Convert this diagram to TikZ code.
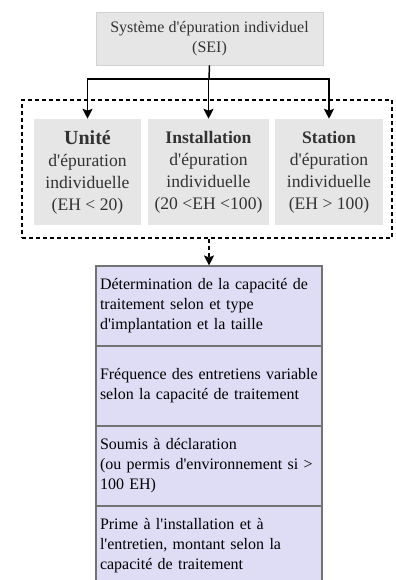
\documentclass[tikz,border=0pt]{standalone}
\usepackage{fontspec}
\setmainfont{Liberation Serif}[Ligatures=TeXOff]
\usetikzlibrary{arrows.meta}
\definecolor{grisbox}{RGB}{230,230,230}
\definecolor{lavande}{RGB}{223,221,245}
\definecolor{texte}{RGB}{51,51,51}
\tikzset{
  fleche/.style={line width=1.1pt,-{Stealth[length=7.5pt,width=7.5pt,inset=1.5pt]}},
  sysbox/.style={fill=grisbox,draw=gray!35,text=texte,align=center,font=\fontsize{12}{15}\selectfont},
  typebox/.style={fill=grisbox,text=texte,align=center,font=\fontsize{13.2}{16.5}\selectfont,minimum height=79.5pt},
  rowbox/.style={fill=lavande,draw=gray!90!black,line width=0.8pt,align=left,text width=163.5pt,
    minimum height=60pt,inner xsep=3pt,font=\fontsize{12}{15}\selectfont}
}
\begin{document}
\begin{tikzpicture}[x=0.75pt,y=-0.75pt]
\useasboundingbox (0,0) rectangle (395,580);
\clip (0,0) rectangle (395,580);
  % systeme
  \node[sysbox,minimum width=170.25pt,minimum height=39.75pt] (sei) at (209.5,38.5)
    {Système d'épuration individuel\\(SEI)};
  % les trois types
  \node[dash pattern=on 3pt off 2.25pt,draw,line width=0.8pt,minimum width=277.5pt,minimum height=103.5pt] (groupe) at (207,169) {};
  \node[typebox,minimum width=80.25pt] (unite) at (87.5,172)
    {{\fontsize{15}{18}\selectfont\bfseries Unité}\\d'épuration\\individuelle\\(EH < 20)};
  \node[typebox,minimum width=90.75pt] (install) at (208.5,172)
    {\textbf{Installation}\\d'épuration\\individuelle\\(20 <EH <100)};
  \node[typebox,minimum width=81pt] (station) at (329,172)
    {\textbf{Station}\\d'épuration\\individuelle\\(EH > 100)};
  % liste
  \node[rowbox] (det) at (209,306) {Détermination de la capacité de\\traitement selon et type\\d'implantation et la taille};
  \node[rowbox] (freq) at (209,386) {Fréquence des entretiens variable\\selon la capacité de traitement};
  \node[rowbox] (decl) at (209,466) {Soumis à déclaration\\(ou permis d'environnement si >\\100 EH)};
  \node[rowbox] (prime) at (209,546) {Prime à l'installation et à\\l'entretien, montant selon la\\capacité de traitement};
  % connecteurs
  \coordinate (bus) at (209,79);
  \draw[line width=1.1pt] (sei.south) -- (bus);
  \foreach \b in {unite,install,station}
    \draw[fleche] (bus) -| (\b.north);
  \draw[fleche,dash pattern=on 3pt off 2.25pt] (det.north |- groupe.south) -- (det.north);
\end{tikzpicture}
\end{document}
